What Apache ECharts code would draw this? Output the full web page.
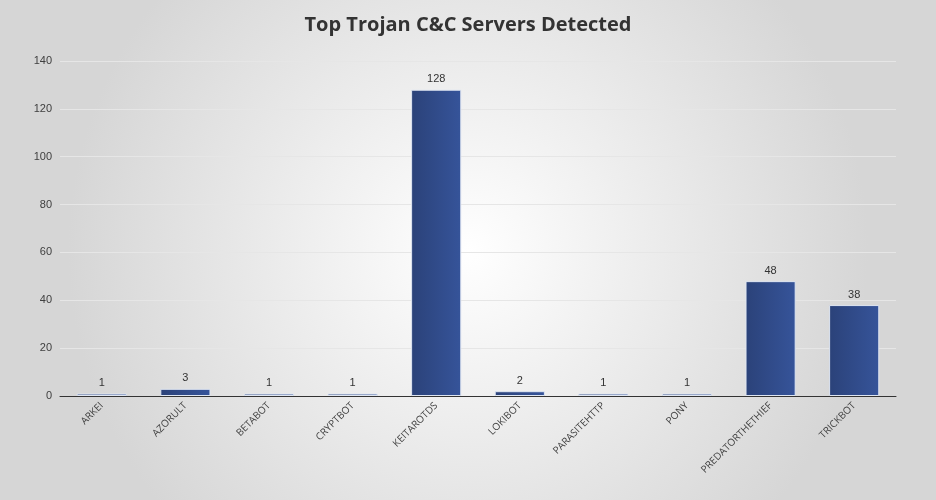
<!DOCTYPE html>
<html><head><meta charset="utf-8">
<script src="https://cdn.jsdelivr.net/npm/echarts@6/dist/echarts.min.js"></script>
<style>html,body{margin:0;padding:0;}#c{width:936px;height:500px;}</style>
</head><body><div id="c"></div>
<script>
const categories=["ARKEI","AZORULT","BETABOT","CRYPTBOT","KEITAROTDS","LOKIBOT","PARASITEHTTP","PONY","PREDATORTHETHIEF","TRICKBOT"];
const values=[1,3,1,1,128,2,1,1,48,38];
const chart=echarts.init(document.getElementById('c'));
chart.setOption({
  backgroundColor:{type:'radial',x:0.5,y:0.5,r:0.8,colorStops:[{offset:0,color:'#ffffff'},{offset:1,color:'#d6d6d6'}]},
  title:{text:'Top Trojan C&C Servers Detected',left:'center',top:10,textStyle:{fontFamily:'Open Sans',fontSize:20,fontWeight:'bold',color:'#333'}},
  grid:{left:60,right:40,top:61,bottom:104},
  xAxis:{type:'category',data:categories,axisTick:{show:false},axisLine:{lineStyle:{color:'#333'}},
    axisLabel:{rotate:45,fontSize:10,color:'#404040',fontFamily:'Open Sans',interval:0}},
  yAxis:{type:'value',min:0,max:140,interval:20,axisLabel:{fontSize:11,color:'#404040'},
    splitLine:{lineStyle:{color:'#e6e6e6'}}},
  series:[{type:'bar',data:values,barWidth:'60%',
    itemStyle:{color:{type:'linear',x:0,y:0,x2:1,y2:0,colorStops:[{offset:0,color:'#2b4279'},{offset:1,color:'#36549a'}]},borderColor:'#dfe6f2',borderWidth:1},
    label:{show:true,position:'top',fontSize:11,color:'#333'}}]
});
</script></body></html>
